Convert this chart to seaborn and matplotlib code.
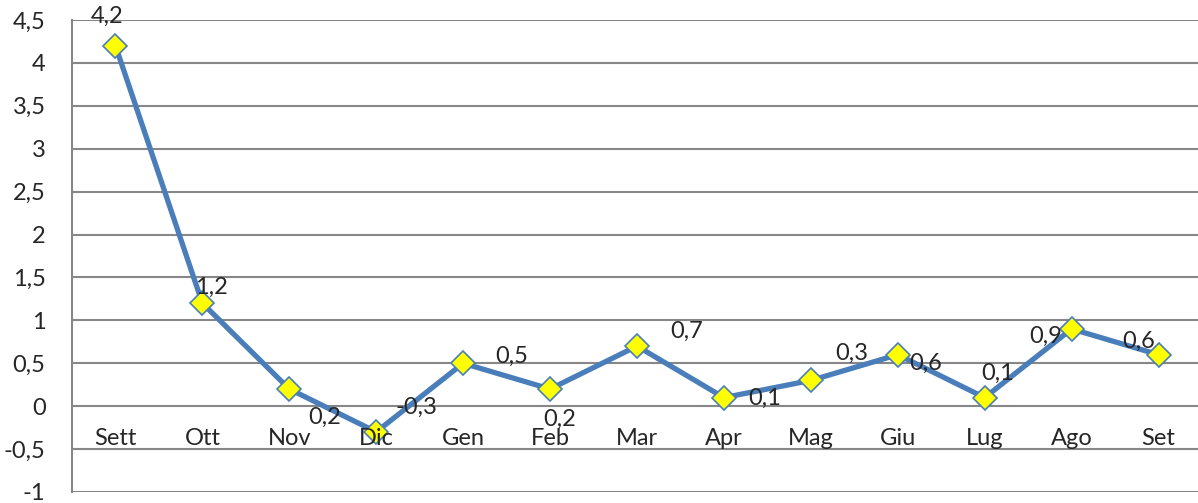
import numpy as np
import pandas as pd
import seaborn as sns
import matplotlib.pyplot as plt
from matplotlib.ticker import MultipleLocator, FuncFormatter

# data
months = ["Sett", "Ott", "Nov", "Dic", "Gen", "Feb", "Mar", "Apr", "Mag", "Giu", "Lug", "Ago", "Set"]
values = [4.2, 1.2, 0.2, -0.3, 0.5, 0.2, 0.7, 0.1, 0.3, 0.6, 0.1, 0.9, 0.6]

# where each data label sits relative to its marker (pixels)
label_offsets = [(-8, 29), (9, 16), (35, -28), (40, 25), (49, 7), (10, -30), (50, 15),
                 (41, -1), (41, 27), (28, -9), (13, 24), (-26, -7), (-20, 13)]

sns.set_style("white")
plt.rcParams['font.family'] = ['Lato', 'DejaVu Sans']
FS = 17


def fmt(v):
    return f"{v:g}".replace(".", ",")


fig = plt.figure(figsize=(11.98, 5.03), dpi=100)
ax = fig.add_axes([72 / 1198, 11 / 503, 1130 / 1198, 472 / 503])

df = pd.DataFrame({"month": months, "value": values})
df["pos"] = np.arange(len(months))

sns.lineplot(data=df, x="pos", y="value", ax=ax, color="#4A7EBB", linewidth=3.8,
             marker="D", markersize=12, markerfacecolor="#FFFF00",
             markeredgecolor="#4A7EBB", markeredgewidth=1.2, zorder=3)

ax.set_xlim(-0.5, len(months) - 0.5)
ax.set_ylim(-1, 4.5)
ax.yaxis.set_major_locator(MultipleLocator(0.5))
ax.yaxis.set_major_formatter(FuncFormatter(lambda v, p: fmt(v)))
ax.grid(True, axis="y", color="#878787", linewidth=1.5)
ax.set_axisbelow(True)
ax.tick_params(axis="y", length=0, pad=19, labelsize=FS)
ax.set_xticks([])
ax.set_xlabel("")
ax.set_ylabel("")

for s in ["top", "right", "bottom"]:
    ax.spines[s].set_visible(False)
ax.spines["left"].set_color("#878787")
ax.spines["left"].set_linewidth(1.5)

# category labels sit under the zero line
for i, m in enumerate(months):
    ax.annotate(m, (i, 0), xytext=(0, -22), textcoords="offset pixels",
                ha="center", va="top", fontsize=FS)

# data labels
for i, (v, off) in enumerate(zip(values, label_offsets)):
    ax.annotate(fmt(v), (i, v), xytext=off, textcoords="offset pixels",
                ha="center", va="center", fontsize=FS, zorder=4)

plt.savefig("out.png", dpi=100)
